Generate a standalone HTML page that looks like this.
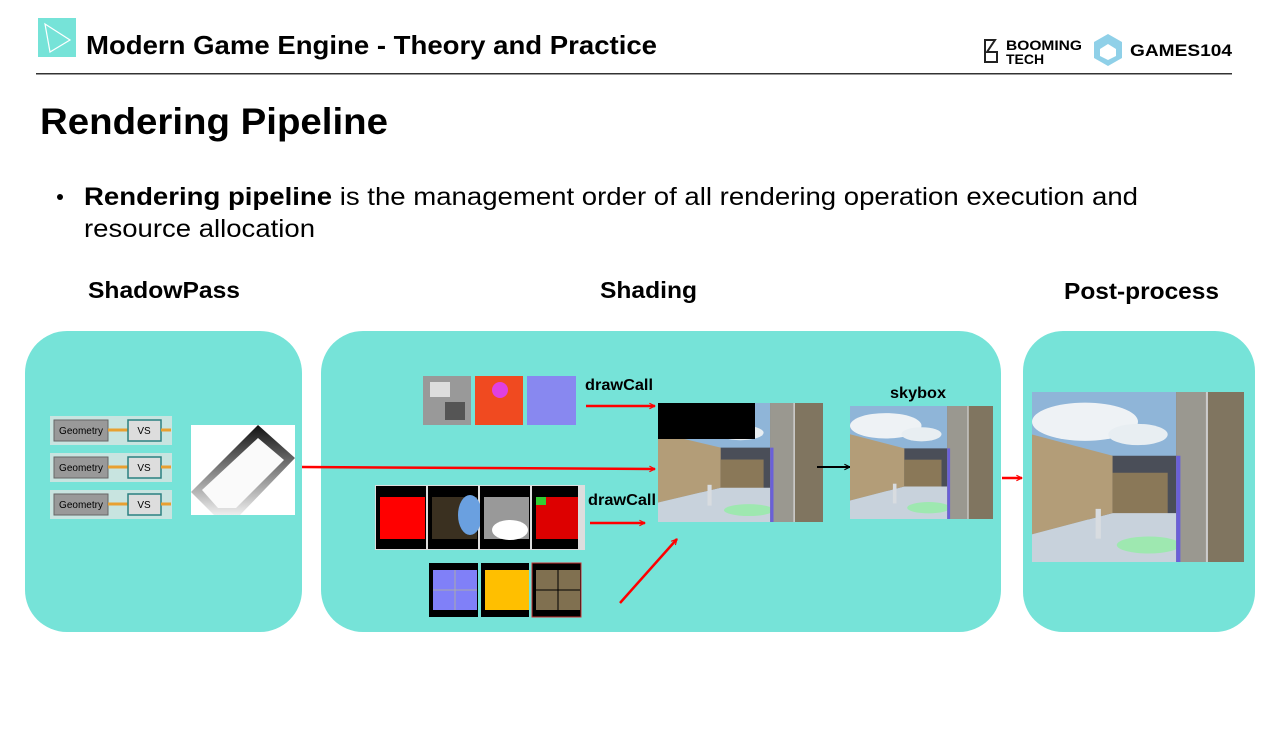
<!DOCTYPE html>
<html><head><meta charset="utf-8"><style>
html,body{margin:0;padding:0;background:#fff;}
svg{display:block;font-family:"Liberation Sans",Arial,sans-serif;}
</style></head><body>
<svg width="1280" height="739" viewBox="0 0 1280 739" xmlns="http://www.w3.org/2000/svg">
<defs>
<symbol id="scene" viewBox="0 0 100 80" preserveAspectRatio="none">
 <rect width="100" height="80" fill="#8fb5d8"/>
 <ellipse cx="25" cy="14" rx="25" ry="9" fill="#eef2f5"/>
 <ellipse cx="50" cy="20" rx="14" ry="5" fill="#e8eef2"/>
 <rect x="0" y="30" width="100" height="30" fill="#4a4e58"/>
 <polygon points="0,20 38,30 38,57 0,67" fill="#b39d78"/>
 <rect x="38" y="38" width="26" height="20" fill="#8a7858"/>
 <polygon points="0,67 38,57 70,57 70,80 0,80" fill="#c8d2dc"/>
 <ellipse cx="55" cy="72" rx="15" ry="4" fill="#9ee8b0"/>
 <rect x="30" y="55" width="2.5" height="14" fill="#d8dce0"/>
 <rect x="68" y="0" width="32" height="80" fill="#807560"/>
 <rect x="68" y="0" width="14" height="80" fill="#9a9890"/>
 <rect x="68" y="30" width="2" height="50" fill="#6a60d8"/>
 <rect x="82" y="0" width="1" height="80" fill="#ccc"/>
</symbol>
<marker id="ar" viewBox="0 0 10 10" refX="9" refY="5" markerWidth="7" markerHeight="7" orient="auto" markerUnits="userSpaceOnUse"><path d="M1,1 L9,5 L1,9" fill="none" stroke="#f00" stroke-width="1.6"/></marker>
<marker id="ab" viewBox="0 0 10 10" refX="9" refY="5" markerWidth="7" markerHeight="7" orient="auto" markerUnits="userSpaceOnUse"><path d="M1,1 L9,5 L1,9" fill="none" stroke="#000" stroke-width="1.6"/></marker>
<linearGradient id="sg" x1="0" y1="0" x2="0" y2="1"><stop offset="0" stop-color="#111"/><stop offset="1" stop-color="#eee"/></linearGradient>
</defs>

<!-- header -->
<rect x="38" y="18" width="38" height="39" fill="#76e3d8"/>
<path d="M45,24 L70,40 L50,52 Z" fill="none" stroke="#fff" stroke-width="1.2"/>
<text x="86" y="54" font-size="26" font-weight="bold" textLength="571" lengthAdjust="spacingAndGlyphs">Modern Game Engine - Theory and Practice</text>
<path d="M985,40 h10 l-8,12 h10 v10 h-12 z" fill="none" stroke="#222" stroke-width="2"/>
<text x="1006" y="50" font-size="14" font-weight="bold" textLength="76" lengthAdjust="spacingAndGlyphs">BOOMING</text>
<text x="1006" y="64" font-size="14" font-weight="bold">TECH</text>
<polygon points="1108,34 1122,42 1122,58 1108,66 1094,58 1094,42" fill="#8fd0e8"/>
<polygon points="1108,44 1116,49 1116,56 1108,60 1100,56 1100,49" fill="#fff"/>
<text x="1130" y="56" font-size="17" font-weight="bold" textLength="102" lengthAdjust="spacingAndGlyphs">GAMES104</text>
<rect x="36" y="73" width="1196" height="1.5" fill="#333"/>

<text x="40" y="134" font-size="37" font-weight="bold" textLength="348" lengthAdjust="spacingAndGlyphs">Rendering Pipeline</text>
<circle cx="60" cy="197" r="3" fill="#000"/>
<text x="84" y="205" font-size="25" textLength="1054" lengthAdjust="spacingAndGlyphs"><tspan font-weight="bold">Rendering pipeline</tspan> is the management order of all rendering operation execution and</text>
<text x="84" y="237" font-size="25" textLength="231" lengthAdjust="spacingAndGlyphs">resource allocation</text>

<text x="88" y="298" font-size="23" font-weight="bold" textLength="152" lengthAdjust="spacingAndGlyphs">ShadowPass</text>
<text x="600" y="298" font-size="23" font-weight="bold" textLength="97" lengthAdjust="spacingAndGlyphs">Shading</text>
<text x="1064" y="299" font-size="23" font-weight="bold" textLength="155" lengthAdjust="spacingAndGlyphs">Post-process</text>

<!-- boxes -->
<rect x="25" y="331" width="277" height="301" rx="42" fill="#76e3d8"/>
<rect x="321" y="331" width="680" height="301" rx="42" fill="#76e3d8"/>
<rect x="1023" y="331" width="232" height="301" rx="40" fill="#76e3d8"/>

<!-- geometry rows -->
<g font-size="10" text-anchor="middle">
 <g transform="translate(50,416)">
  <rect width="122" height="29" fill="#c8e4e0"/><rect x="4" y="4" width="54" height="21" fill="#999" stroke="#666"/><text x="31" y="18">Geometry</text>
  <path d="M58,14 h20" stroke="#e8a030" stroke-width="3"/><rect x="78" y="4" width="33" height="21" fill="#ddd" stroke="#2a8080" stroke-width="1.5"/><text x="94" y="18">VS</text><path d="M111,14 h10" stroke="#e8a030" stroke-width="3"/>
 </g>
 <g transform="translate(50,453)">
  <rect width="122" height="29" fill="#c8e4e0"/><rect x="4" y="4" width="54" height="21" fill="#999" stroke="#666"/><text x="31" y="18">Geometry</text>
  <path d="M58,14 h20" stroke="#e8a030" stroke-width="3"/><rect x="78" y="4" width="33" height="21" fill="#ddd" stroke="#2a8080" stroke-width="1.5"/><text x="94" y="18">VS</text><path d="M111,14 h10" stroke="#e8a030" stroke-width="3"/>
 </g>
 <g transform="translate(50,490)">
  <rect width="122" height="29" fill="#c8e4e0"/><rect x="4" y="4" width="54" height="21" fill="#999" stroke="#666"/><text x="31" y="18">Geometry</text>
  <path d="M58,14 h20" stroke="#e8a030" stroke-width="3"/><rect x="78" y="4" width="33" height="21" fill="#ddd" stroke="#2a8080" stroke-width="1.5"/><text x="94" y="18">VS</text><path d="M111,14 h10" stroke="#e8a030" stroke-width="3"/>
 </g>
</g>
<!-- shadow map -->
<rect x="191" y="425" width="104" height="90" fill="#fff"/>
<polygon points="191,492 258,425 295,458 240,515 214,515" fill="url(#sg)"/>
<polygon points="202,490 258,438 284,460 236,508 218,508" fill="#fafafa"/>

<!-- textures top -->
<rect x="423" y="376" width="48" height="49" fill="#999"/><rect x="430" y="382" width="20" height="15" fill="#ddd"/><rect x="445" y="402" width="20" height="18" fill="#555"/>
<rect x="475" y="376" width="48" height="49" fill="#f04a20"/><circle cx="500" cy="390" r="8" fill="#e040e0"/>
<rect x="527" y="376" width="49" height="49" fill="#8888f0"/>
<text x="585" y="390" font-size="16" font-weight="bold" textLength="68" lengthAdjust="spacingAndGlyphs">drawCall</text>
<line x1="586" y1="406" x2="655" y2="406" stroke="#f00" stroke-width="2.5" marker-end="url(#ar)"/>

<!-- main image -->
<use href="#scene" x="658" y="403" width="165" height="119"/>
<rect x="658" y="403" width="97" height="36" fill="#000"/>

<line x1="302" y1="467" x2="655" y2="469" stroke="#f00" stroke-width="2.5" marker-end="url(#ar)"/>

<!-- gbuffer strip -->
<rect x="375" y="485" width="210" height="65" fill="#ddd"/>
<rect x="376" y="486" width="50" height="63" fill="#000"/><rect x="380" y="497" width="45" height="42" fill="#f00"/>
<rect x="428" y="486" width="50" height="63" fill="#000"/><rect x="432" y="497" width="45" height="42" fill="#3a3020"/><ellipse cx="470" cy="515" rx="12" ry="20" fill="#6aa0e0"/>
<rect x="480" y="486" width="50" height="63" fill="#000"/><rect x="484" y="497" width="45" height="42" fill="#999"/><ellipse cx="510" cy="530" rx="18" ry="10" fill="#fff"/>
<rect x="532" y="486" width="46" height="63" fill="#000"/><rect x="536" y="497" width="42" height="42" fill="#d00"/><rect x="536" y="497" width="10" height="8" fill="#3c3"/>
<text x="588" y="505" font-size="16" font-weight="bold" textLength="68" lengthAdjust="spacingAndGlyphs">drawCall</text>
<line x1="590" y1="523" x2="645" y2="523" stroke="#f00" stroke-width="2.5" marker-end="url(#ar)"/>

<!-- bottom textures -->
<rect x="429" y="563" width="49" height="54" fill="#000"/><rect x="433" y="570" width="44" height="40" fill="#8080f8"/><path d="M455,570 v40 M433,590 h44" stroke="#aaa"/>
<rect x="481" y="563" width="48" height="54" fill="#000"/><rect x="485" y="570" width="44" height="40" fill="#ffbf00"/>
<rect x="532" y="563" width="49" height="54" fill="#000" stroke="#c33"/><rect x="536" y="570" width="44" height="40" fill="#807050"/><path d="M558,570 v40 M536,590 h44" stroke="#000"/>
<line x1="620" y1="603" x2="677" y2="539" stroke="#f00" stroke-width="2.5" marker-end="url(#ar)"/>

<!-- skybox -->
<line x1="817" y1="467" x2="850" y2="467" stroke="#000" stroke-width="2" marker-end="url(#ab)"/>
<text x="890" y="398" font-size="16" font-weight="bold" textLength="56" lengthAdjust="spacingAndGlyphs">skybox</text>
<use href="#scene" x="850" y="406" width="143" height="113"/>

<line x1="1002" y1="478" x2="1022" y2="478" stroke="#f00" stroke-width="2.5" marker-end="url(#ar)"/>
<use href="#scene" x="1032" y="392" width="212" height="170"/>
</svg>
</body></html>
